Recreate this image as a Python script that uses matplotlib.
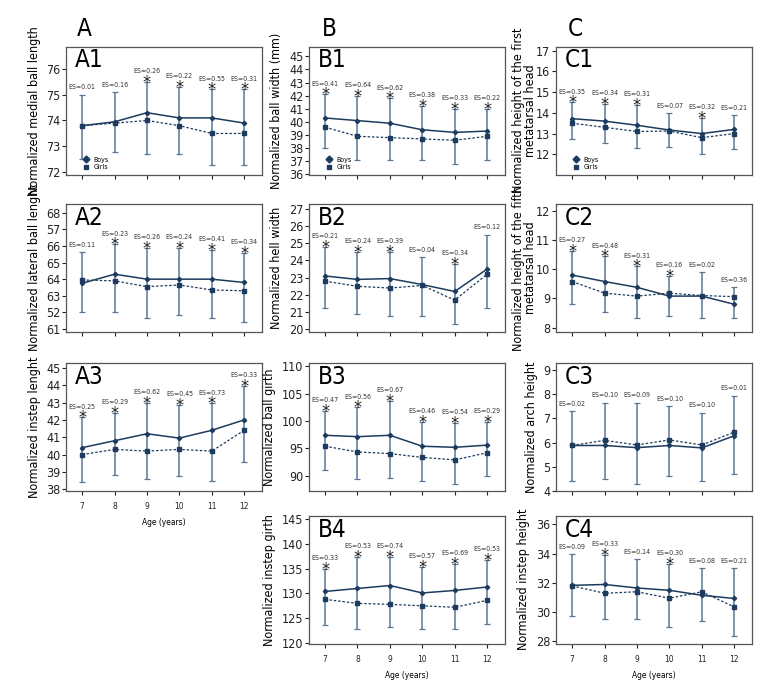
import matplotlib
matplotlib.use('Agg')
import matplotlib.pyplot as plt
from matplotlib import font_manager as fm
from matplotlib.lines import Line2D

# pick a narrow font if one is installed
installed = {(f.name, f.stretch) for f in fm.fontManager.ttflist}
names = {n for n, s in installed}
narrow = True
if 'Liberation Sans Narrow' in names:
    plt.rcParams['font.family'] = ['Liberation Sans Narrow', 'DejaVu Sans']
elif any(n == 'DejaVu Sans' and s in ('condensed', 'semi-condensed') for n, s in installed):
    plt.rcParams['font.family'] = ['DejaVu Sans']
    plt.rcParams['font.stretch'] = 'condensed'
elif 'Roboto Condensed' in names:
    plt.rcParams['font.family'] = ['Roboto Condensed', 'DejaVu Sans']
else:
    plt.rcParams['font.family'] = ['Liberation Sans', 'DejaVu Sans']
    narrow = False

ages = [7, 8, 9, 10, 11, 12]

# A column
a1_boys = [73.8, 73.95, 74.3, 74.1, 74.1, 73.9]
a1_girls = [73.8, 73.9, 74.0, 73.8, 73.5, 73.5]
a1_hi = [75.0, 75.1, 75.5, 75.3, 75.2, 75.2]
a1_lo = [72.5, 72.8, 72.7, 72.7, 72.3, 72.3]
a1_es = ['0.01', '0.16', '0.26', '0.22', '0.55', '0.31']
a1_star = [0, 0, 1, 1, 1, 1]

a2_boys = [63.75, 64.3, 64.0, 64.0, 64.0, 63.8]
a2_girls = [63.95, 63.9, 63.55, 63.65, 63.35, 63.3]
a2_hi = [65.65, 66.1, 65.9, 65.9, 65.75, 65.6]
a2_lo = [62.05, 62.0, 61.65, 61.85, 61.65, 61.4]
a2_es = ['0.11', '0.23', '0.26', '0.24', '0.41', '0.34']
a2_star = [0, 1, 1, 1, 1, 1]
a2_ticklabels = ['61', '52', '63', '64', '65', '66', '57', '68']

a3_boys = [40.4, 40.8, 41.2, 40.95, 41.4, 42.0]
a3_girls = [40.0, 40.3, 40.2, 40.3, 40.2, 41.4]
a3_hi = [42.15, 42.4, 43.0, 42.85, 42.95, 43.95]
a3_lo = [38.4, 38.8, 38.6, 38.75, 38.5, 39.6]
a3_es = ['0.25', '0.29', '0.62', '0.45', '0.73', '0.33']
a3_star = [1, 1, 1, 1, 1, 1]

# B column
b1_boys = [40.3, 40.1, 39.9, 39.4, 39.2, 39.3]
b1_girls = [39.6, 38.9, 38.8, 38.7, 38.6, 38.9]
b1_hi = [42.1, 42.0, 41.8, 41.2, 41.0, 41.0]
b1_lo = [38.0, 37.1, 37.1, 37.1, 36.8, 37.1]
b1_es = ['0.41', '0.64', '0.62', '0.38', '0.33', '0.22']
b1_star = [1, 1, 1, 1, 1, 1]

b2_boys = [23.1, 22.9, 22.95, 22.6, 22.2, 23.5]
b2_girls = [22.8, 22.5, 22.4, 22.55, 21.7, 23.2]
b2_hi = [24.8, 24.5, 24.5, 24.2, 23.8, 25.5]
b2_lo = [21.25, 20.9, 20.8, 20.8, 20.3, 21.25]
b2_es = ['0.21', '0.24', '0.39', '0.04', '0.34', '0.12']
b2_star = [1, 1, 1, 0, 1, 0]

b3_boys = [97.4, 97.15, 97.4, 95.4, 95.2, 95.6]
b3_girls = [95.4, 94.35, 94.05, 93.35, 92.9, 94.2]
b3_hi = [101.9, 102.5, 103.65, 99.9, 99.7, 99.8]
b3_lo = [91.0, 89.4, 89.6, 89.0, 88.5, 90.0]
b3_es = ['0.47', '0.56', '0.67', '0.46', '0.54', '0.29']
b3_star = [1, 1, 1, 1, 1, 1]

b4_boys = [130.4, 131.0, 131.6, 130.1, 130.6, 131.3]
b4_girls = [128.8, 128.0, 127.8, 127.5, 127.2, 128.6]
b4_hi = [135.0, 137.4, 137.4, 135.3, 135.9, 136.7]
b4_lo = [123.6, 122.9, 123.3, 122.9, 122.8, 123.9]
b4_es = ['0.33', '0.53', '0.74', '0.57', '0.69', '0.53']
b4_star = [1, 1, 1, 1, 1, 1]

# C column
c1_boys = [13.72, 13.6, 13.4, 13.17, 13.0, 13.2]
c1_girls = [13.5, 13.3, 13.1, 13.12, 12.8, 13.0]
c1_hi = [14.5, 14.42, 14.4, 14.0, 13.75, 13.9]
c1_lo = [12.72, 12.52, 12.3, 12.33, 12.03, 12.23]
c1_es = ['0.35', '0.34', '0.31', '0.07', '0.32', '0.21']
c1_star = [1, 1, 1, 0, 1, 0]

c2_boys = [9.8, 9.58, 9.38, 9.08, 9.08, 8.8]
c2_girls = [9.58, 9.18, 9.08, 9.18, 9.1, 9.06]
c2_hi = [10.62, 10.44, 10.1, 9.78, 9.9, 9.4]
c2_lo = [8.8, 8.52, 8.32, 8.41, 8.32, 8.32]
c2_es = ['0.27', '0.48', '0.31', '0.16', '0.02', '0.36']
c2_star = [1, 1, 1, 1, 0, 0]

c3_boys = [5.88, 5.88, 5.79, 5.88, 5.78, 6.28]
c3_girls = [5.88, 6.09, 5.9, 6.11, 5.9, 6.43]
c3_hi = [7.3, 7.65, 7.65, 7.52, 7.24, 7.94]
c3_lo = [4.4, 4.5, 4.3, 4.6, 4.4, 4.7]
c3_es = ['0.02', '0.10', '0.09', '0.10', '0.10', '0.01']
c3_star = [0, 0, 0, 0, 0, 0]

c4_boys = [31.82, 31.88, 31.64, 31.48, 31.14, 30.92]
c4_girls = [31.78, 31.28, 31.38, 30.94, 31.38, 30.34]
c4_hi = [33.94, 33.9, 33.64, 33.27, 33.0, 33.0]
c4_lo = [29.75, 29.5, 29.5, 28.98, 29.38, 28.38]
c4_es = ['0.09', '0.33', '0.14', '0.30', '0.08', '0.21']
c4_star = [0, 1, 0, 1, 0, 0]

line_col = '#1d3b5e'
err_col = '#5a7896'

# text sizes, smaller when no narrow font is around
if narrow:
    es_fs, tick_fs, lab_fs, name_fs, small_fs = 5, 9, 9, 17.5, 6
else:
    es_fs, tick_fs, lab_fs, name_fs, small_fs = 4.4, 8, 7.6, 16, 5.5

fig = plt.figure(figsize=(7.8, 6.96), dpi=100)

col_left = [0.0846, 0.396, 0.7128]
col_w = 0.2513
row_bottom = [0.7486, 0.523, 0.2945, 0.0747]
row_h = 0.1845


def panel(col, row, name, boys, girls, hi, lo, es, star, ylim, yticks, ylabel,
          xlabels=False, yticklabels=None, legend=False, labelpad=4):
    ax = fig.add_axes([col_left[col], row_bottom[row], col_w, row_h])
    lo_err = [b - l for b, l in zip(boys, lo)]
    hi_err = [h - b for b, h in zip(boys, hi)]
    ax.errorbar(ages, boys, yerr=[lo_err, hi_err], fmt='none', ecolor=err_col,
                elinewidth=1.1, capsize=2, capthick=0.9, zorder=1)
    ax.plot(ages, boys, color=line_col, lw=1.1, marker='D', ms=2.2, zorder=3)
    ax.plot(ages, girls, color=line_col, lw=0.9, ls=(0, (2, 1.5)), marker='s',
            ms=2.2, zorder=3)
    for x, h, e, s in zip(ages, hi, es, star):
        if s:
            ax.annotate('*', (x, h), xytext=(0, -4.3), textcoords='offset points',
                        ha='center', va='baseline', fontsize=13, color='#222222')
            ax.annotate('ES=' + e, (x, h), xytext=(0, 5.6), textcoords='offset points',
                        ha='center', va='bottom', fontsize=es_fs, color='#333333')
        else:
            ax.annotate('ES=' + e, (x, h), xytext=(0, 3), textcoords='offset points',
                        ha='center', va='bottom', fontsize=es_fs, color='#333333')
    ax.set_xlim(6.5, 12.55)
    ax.set_ylim(*ylim)
    ax.set_xticks(ages)
    ax.set_yticks(yticks)
    if yticklabels is not None:
        ax.set_yticklabels(yticklabels)
    if xlabels:
        ax.set_xticklabels([str(a) for a in ages], fontsize=small_fs)
        ax.set_xlabel('Age (years)', fontsize=small_fs, labelpad=5)
    else:
        ax.set_xticklabels([])
    ax.tick_params(axis='y', labelsize=tick_fs, length=3, width=0.8, pad=1, colors='#222222')
    ax.tick_params(axis='x', length=3, width=0.8, pad=5, colors='#222222')
    for sp in ax.spines.values():
        sp.set_color('#555555')
        sp.set_linewidth(0.9)
    ax.set_ylabel(ylabel, fontsize=lab_fs, labelpad=labelpad, linespacing=0.9)
    ax.text(0.045, 0.985, name, transform=ax.transAxes, fontsize=name_fs, va='top', ha='left')
    if legend:
        handles = [Line2D([], [], color=line_col, marker='D', ls='none', ms=3.5, label='Boys'),
                   Line2D([], [], color=line_col, marker='s', ls='none', ms=3.5, label='Girls')]
        ax.legend(handles=handles, loc='lower left', fontsize=5, frameon=False,
                  handletextpad=0.1, borderpad=0.2, labelspacing=0.2,
                  bbox_to_anchor=(0.04, 0.0))
    return ax


panel(0, 0, 'A1', a1_boys, a1_girls, a1_hi, a1_lo, a1_es, a1_star,
      (71.9, 76.85), [72, 73, 74, 75, 76], 'Normalized medial ball length', legend=True)
panel(0, 1, 'A2', a2_boys, a2_girls, a2_hi, a2_lo, a2_es, a2_star,
      (60.82, 68.55), list(range(61, 69)), 'Normalized lateral ball lenght',
      yticklabels=a2_ticklabels)
panel(0, 2, 'A3', a3_boys, a3_girls, a3_hi, a3_lo, a3_es, a3_star,
      (37.9, 45.3), list(range(38, 46)), 'Normalized instep lenght', xlabels=True)

panel(1, 0, 'B1', b1_boys, b1_girls, b1_hi, b1_lo, b1_es, b1_star,
      (35.95, 45.75), list(range(36, 46)), 'Normalized ball width (mm)', legend=True)
panel(1, 1, 'B2', b2_boys, b2_girls, b2_hi, b2_lo, b2_es, b2_star,
      (19.85, 27.3), list(range(20, 28)), 'Normalized hell width')
panel(1, 2, 'B3', b3_boys, b3_girls, b3_hi, b3_lo, b3_es, b3_star,
      (87.2, 110.7), [90, 95, 100, 105, 110], 'Normalized ball girth')
panel(1, 3, 'B4', b4_boys, b4_girls, b4_hi, b4_lo, b4_es, b4_star,
      (119.8, 145.7), [120, 125, 130, 135, 140, 145], 'Normalized instep girth', xlabels=True)

panel(2, 0, 'C1', c1_boys, c1_girls, c1_hi, c1_lo, c1_es, c1_star,
      (11.0, 17.2), [12, 13, 14, 15, 16, 17],
      'Normalized height of the first\nmetatarsal head', legend=True, labelpad=-1)
panel(2, 1, 'C2', c2_boys, c2_girls, c2_hi, c2_lo, c2_es, c2_star,
      (7.85, 12.25), [8, 9, 10, 11, 12],
      'Normalized height of the fifth\nmetatarsal head', labelpad=-1)
panel(2, 2, 'C3', c3_boys, c3_girls, c3_hi, c3_lo, c3_es, c3_star,
      (4.05, 9.3), [4, 5, 6, 7, 8, 9], 'Normalized arch height')
panel(2, 3, 'C4', c4_boys, c4_girls, c4_hi, c4_lo, c4_es, c4_star,
      (27.8, 36.6), [28, 30, 32, 34, 36], 'Normalized instep height', xlabels=True)

for x, lab in zip([77 / 780, 322 / 780, 568 / 780], ['A', 'B', 'C']):
    fig.text(x, 1 - 29 / 696, lab, fontsize=name_fs, va='center', ha='left')

fig.savefig('out.png', dpi=100)
